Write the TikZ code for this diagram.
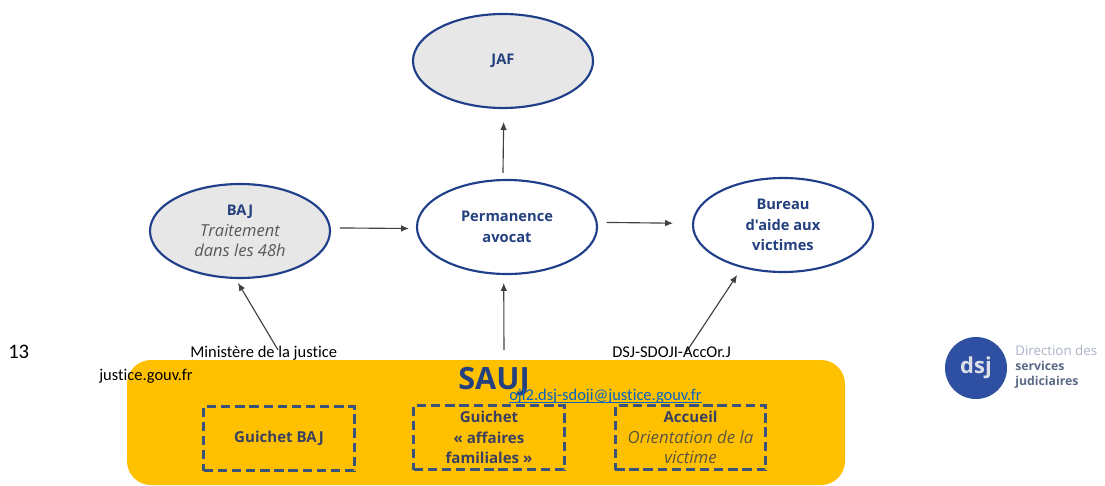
\documentclass[tikz,border=0pt]{standalone}
\usepackage{fontspec}
\setmainfont[Ligatures=NoCommon]{Carlito}
\newfontfamily\diagfont{Open Sans}
\usetikzlibrary{shapes.geometric,arrows.meta}
\definecolor{navy}{HTML}{1F3F8A}
\definecolor{navytxt}{HTML}{24407F}
\definecolor{dashc}{HTML}{3B5279}
\definecolor{ellfill}{HTML}{E7E7E7}
\definecolor{sauj}{HTML}{FFC000}
\definecolor{lnk}{HTML}{0563C1}
\definecolor{logoblue}{HTML}{2F4FA3}
\definecolor{logogray}{HTML}{A9B2C4}
\definecolor{logotxt}{HTML}{5A6A86}
\definecolor{boxtxt}{HTML}{3A4060}
\definecolor{boxit}{HTML}{5A5540}
\newcommand\lnkline[1]{\setbox0\hbox{#1}\rlap{\rule[-1.6pt]{\wd0}{0.8pt}}\box0}
\newcommand\grayit[1]{{\mdseries\itshape\fontsize{12.4}{15.5}\selectfont\color{black!65}#1}}
\newcommand\boxit[1]{{\mdseries\itshape\fontsize{12.6}{15.5}\selectfont\color{boxit}#1}}
\tikzset{
  ell/.style={ellipse,draw=navy,line width=1.6pt,minimum width=135pt,minimum height=70.5pt,inner sep=0pt,outer sep=0pt,align=center,text=navytxt,font=\diagfont\bfseries\fontsize{11}{15.5}\selectfont},
  graybg/.style={fill=ellfill},
  whitebg/.style={fill=white},
  dashbox/.style={draw=dashc,line width=2.1pt,dash pattern=on 7pt off 3.6pt,minimum width=113pt,minimum height=48.5pt,inner sep=0pt,align=center,text=boxtxt,font=\diagfont\bfseries\fontsize{11.3}{15.5}\selectfont},
  conn/.style={draw=black!75,line width=0.85pt,-{Latex[length=6pt,width=5pt]}},
  over/.style={inner sep=0pt,anchor=base west,font=\fontsize{12.35}{14}\selectfont,text=black},
  logotext/.style={inner sep=0pt,anchor=base west,font=\diagfont\fontsize{10}{12}\selectfont}
}
\begin{document}
\begin{tikzpicture}[x=0.75pt,y=-0.75pt]
\useasboundingbox (0,0) rectangle (1105,485);
\node[rectangle,fill=sauj,rounded corners=18pt,minimum width=538.5pt,minimum height=93.75pt,inner sep=0pt,outer sep=0pt] (saujbox) at (486,422.5) {};
\node[ell,graybg] (jaf) at (503,61) {JAF};
\node[ell,graybg] (baj) at (240,231) {BAJ\\\grayit{Traitement}\\\grayit{dans les 48h}};
\node[ell,whitebg] (perm) at (507,227) {Permanence\\avocat};
\node[ell,whitebg] (bureau) at (783,225) {Bureau\\d'aide aux\\victimes};
\node[dashbox] (gbaj) at (279,438.5) {Guichet BAJ};
\node[dashbox] (gaf) at (489,437.5) {Guichet\\« affaires\\familiales »};
\node[dashbox] (acc) at (690.5,437.5) {Accueil\\\boxit{Orientation de la}\\\boxit{victime}};
\node[inner sep=0pt,text=navytxt,font=\diagfont\bfseries\fontsize{23}{27}\selectfont] (sajt) at (494,382) {SAUJ};
\draw[conn,shorten <=5.3pt,shorten >=10.5pt] (perm.95) -- (jaf.271);
\draw[conn,shorten <=7.5pt,shorten >=6pt] (baj.2) -- (perm.181);
\draw[conn,shorten <=7.5pt,shorten >=15pt] (perm.3) -- (bureau.179);
\draw[conn,shorten <=7.5pt,shorten >=6.75pt] ([xshift=13.5pt]saujbox.north) -- (perm.266);
\draw[conn,shorten <=8.8pt,shorten >=4.3pt] ([xshift=-151.5pt]saujbox.north) -- (baj.264);
\draw[conn,shorten <=7pt,shorten >=7.2pt] ([xshift=146.25pt]saujbox.north) -- (bureau.226);
\node[over,font=\fontsize{15.5}{18}\selectfont] (pg) at (8,358.5) {13};
\node[over] (min) at (190,357) {Ministère de la justice};
\node[over] (dsjt) at (612,357) {DSJ-SDOJI-AccOr.J};
\node[over] (just) at (99,380) {justice.gouv.fr};
\node[over,text=lnk] (mail) at (509,400.5) {\lnkline{ojl2.dsj-sdoji@justice.gouv.fr}};
\node[circle,fill=logoblue,minimum size=46.5pt,inner sep=0pt,text=logogray!40!white,font=\diagfont\bfseries\fontsize{16.5}{20}\selectfont] (logo) at (976,368) {dsj};
\node[logotext,text=logogray] (l1) at (1015,355) {Direction des};
\node[logotext,text=logotxt,font=\diagfont\bfseries\fontsize{9.2}{11}\selectfont] (l2) at (1015,370) {services};
\node[logotext,text=logotxt,font=\diagfont\bfseries\fontsize{9.2}{11}\selectfont] (l3) at (1015,385) {judiciaires};
\end{tikzpicture}
\end{document}
